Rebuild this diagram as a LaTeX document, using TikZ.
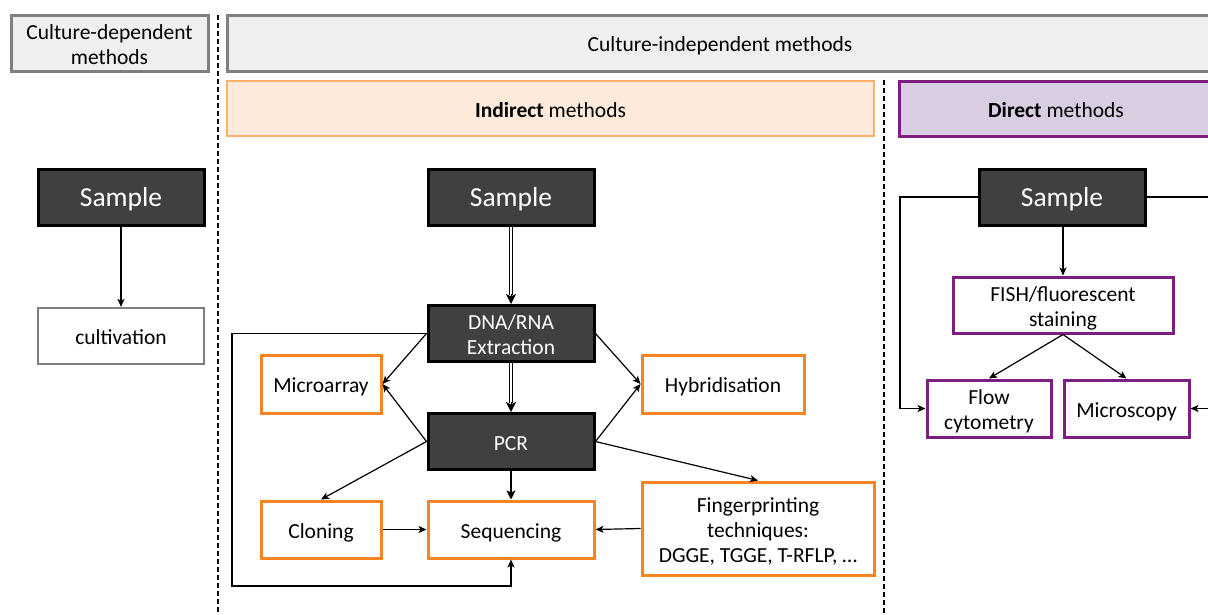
\documentclass[tikz,border=0pt]{standalone}
\usepackage{fontspec}
\setmainfont{Carlito}
\usetikzlibrary{arrows.meta}
\definecolor{darkfill}{HTML}{404040}
\definecolor{hdrgray}{HTML}{EFEFEF}
\definecolor{bordgray}{HTML}{7F7F7F}
\definecolor{orangeb}{HTML}{F7841E}
\definecolor{orangelt}{HTML}{F9B16A}
\definecolor{peach}{HTML}{FDEADA}
\definecolor{purpleb}{HTML}{7E1E80}
\definecolor{lilac}{HTML}{D8CDE1}
\newcommand\dn[1]{\raisebox{-3.5pt}[\height][\depth]{\begin{tabular}{@{}c@{}}#1\end{tabular}}}
\tikzset{
  txt/.style={font=\fontsize{21.5}{25}\selectfont, inner sep=0pt},
  hdr/.style={txt, draw=bordgray, fill=hdrgray, line width=3pt},
  darkbox/.style={txt, draw=black, fill=darkfill, text=white, line width=3pt, minimum width=166pt, minimum height=56pt},
  bigtxt/.style={font=\fontsize{27.5}{31}\selectfont},
  obox/.style={txt, draw=orangeb, fill=white, line width=3pt},
  pbox/.style={txt, draw=purpleb, fill=white, line width=3pt},
  gbox/.style={txt, draw=bordgray, fill=white, line width=2.2pt},
  arr/.style={line width=1.2pt, -{Stealth[length=8pt,width=7pt,inset=2pt]}},
  dbl/.style={double, double distance=2.6pt, line width=1pt},
  divider/.style={line width=1.2pt, dash pattern=on 5pt off 3pt}
}
\begin{document}
\begin{tikzpicture}[x=1pt,y=-1pt]
\useasboundingbox (0,0) rectangle (1208,614);
\clip (0,0) rectangle (1208,614);
% dividers
\coordinate (d1t) at (218,15); \coordinate (d1b) at (218,614);
\coordinate (d2t) at (884,80); \coordinate (d2b) at (884,614);
\draw[divider] (d1t) -- (d1b);
\draw[divider] (d2t) -- (d2b);
% headers
\node[hdr, minimum width=197pt, minimum height=56pt] (cd) at (109.5,43) {\dn{Culture-dependent\\methods}};
\node[hdr, minimum width=986pt, minimum height=56pt] (ci) at (720,43) {\dn{Culture-independent methods}};
\node[txt, draw=orangelt, fill=peach, line width=2.4pt, minimum width=647pt, minimum height=55pt] (ind) at (550.5,108.5) {\dn{\textbf{Indirect} methods}};
\node[txt, draw=purpleb, fill=lilac, line width=3pt, minimum width=314pt, minimum height=55pt] (dir) at (1056,108.5) {\dn{\textbf{Direct} methods}};
% left column
\node[darkbox, bigtxt] (s1) at (121,197) {\dn{Sample}};
\node[gbox, minimum width=166pt, minimum height=56pt] (cult) at (121,336) {\dn{cultivation}};
\draw[arr] (s1) -- (cult);
% middle column
\node[darkbox, bigtxt] (s2) at (511,197) {\dn{Sample}};
\node[darkbox] (dna) at (511,333.5) {\dn{DNA/RNA\\Extraction}};
\node[darkbox] (pcr) at (511,441.5) {\dn{PCR}};
\node[obox, minimum width=120pt, minimum height=58pt] (micro) at (321,384) {\dn{Microarray}};
\node[obox, minimum width=162pt, minimum height=58pt] (hyb) at (723,384) {\dn{Hybridisation}};
\node[obox, minimum width=120pt, minimum height=57pt] (clon) at (321,529.5) {\dn{Cloning}};
\node[obox, minimum width=166pt, minimum height=57pt] (seq) at (511,529.5) {\dn{Sequencing}};
\node[obox, minimum width=232pt, minimum height=93pt] (fing) at (758,528.5) {\dn{Fingerprinting\\techniques:\\DGGE, TGGE, T-RFLP, \dots}};
% double arrows
\draw[dbl] (s2.south) -- ([yshift=9pt]dna.north);
\draw[line width=1pt, -{Stealth[length=10pt,width=10pt,inset=2.5pt]}] ([yshift=10pt]dna.north) -- (dna.north);
\draw[dbl] (dna.south) -- ([yshift=9pt]pcr.north);
\draw[line width=1pt, -{Stealth[length=10pt,width=10pt,inset=2.5pt]}] ([yshift=10pt]pcr.north) -- (pcr.north);
\draw[line width=1.8pt, -{Stealth[length=9pt,width=9pt,inset=2pt]}] (pcr.south) -- (seq.north);
% single arrows
\draw[arr] (dna.west) -- (micro.east);
\draw[arr] (pcr.west) -- (micro.east);
\draw[arr] (pcr.west) -- (clon.north);
\draw[arr] (dna.east) -- (hyb.west);
\draw[arr] (pcr.east) -- (hyb.west);
\draw[arr] (pcr.east) -- (fing.north);
\draw[arr] (clon.east) -- (seq.west);
\draw[arr] (fing.west) -- (seq.east);
\coordinate (loop) at (232,586);
\draw[arr] (dna.west) -| (loop) -| (seq.south);
% right column
\node[darkbox, bigtxt] (s3) at (1062,197) {\dn{Sample}};
\node[pbox, minimum width=220pt, minimum height=56pt] (fish) at (1063,305) {\dn{FISH/fluorescent\\staining}};
\node[pbox, minimum width=124pt, minimum height=57pt] (flow) at (989,408.5) {\dn{Flow\\cytometry}};
\node[pbox, minimum width=125pt, minimum height=57pt] (mics) at (1126.5,408.5) {\dn{Microscopy}};
\draw[arr] (s3.south -| fish.north) -- (fish.north);
\draw[arr] (fish.south) -- (flow.north);
\draw[arr] (fish.south) -- (mics.north);
\coordinate (lc) at (900,408.5);
\draw[arr] (s3.west) -| (lc) -- (flow.west);
\coordinate (rc1) at (1212,197);
\coordinate (rc2) at (1212,408.5);
\draw[line width=1.2pt] (s3.east) -- (rc1);
\draw[arr] (rc2) -- (mics.east);
\end{tikzpicture}
\end{document}
